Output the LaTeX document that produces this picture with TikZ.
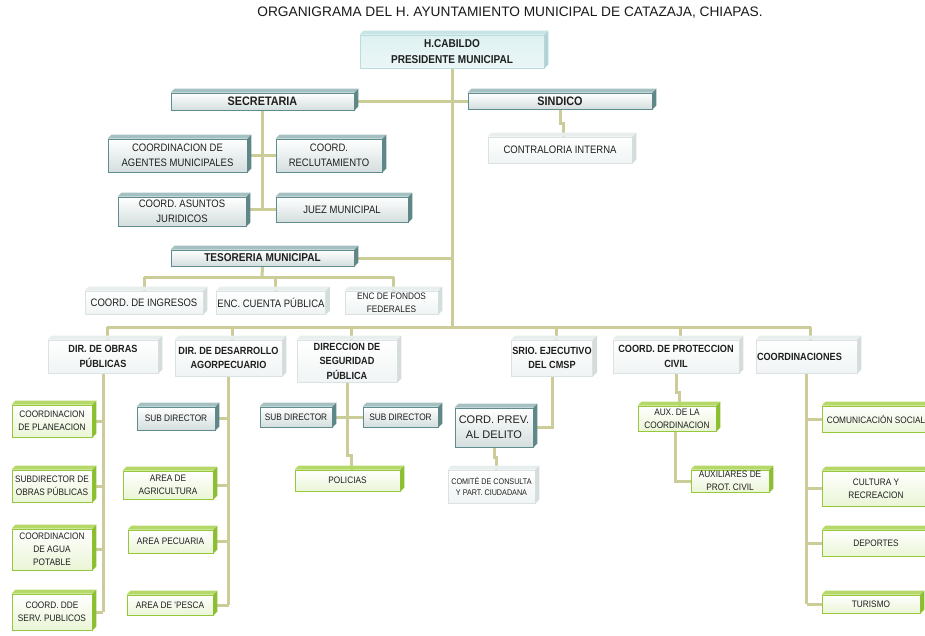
\documentclass[tikz,border=0pt]{standalone}
\usepackage{fontspec}
\setmainfont{Liberation Sans}
\newfontfamily\nar[FakeStretch=0.88]{Liberation Sans}
\usetikzlibrary{backgrounds}

\definecolor{lnkc}{RGB}{204,204,153}
\definecolor{tealdr}{RGB}{95,140,140}
\definecolor{tealfl}{RGB}{212,222,222}
\definecolor{tealtp}{RGB}{165,192,192}
\definecolor{tealsd}{RGB}{95,135,135}
\definecolor{cabdr}{RGB}{185,220,220}
\definecolor{cabfl}{RGB}{222,241,241}
\definecolor{cabtp}{RGB}{200,228,228}
\definecolor{cabsd}{RGB}{178,212,212}
\definecolor{paledr}{RGB}{218,226,226}
\definecolor{palefl}{RGB}{240,244,244}
\definecolor{paletp}{RGB}{232,238,238}
\definecolor{palesd}{RGB}{212,220,220}
\definecolor{grndr}{RGB}{150,200,60}
\definecolor{grnfl}{RGB}{234,245,214}
\definecolor{grntp}{RGB}{182,216,104}
\definecolor{grnsd}{RGB}{140,190,50}

\newcommand\ft{\fontsize{13.7}{15}\selectfont}
\newcommand\fa{\nar\fontsize{10.8}{14.5}\selectfont}
\newcommand\fb{\nar\fontsize{11.4}{16}\selectfont\bfseries}
\newcommand\fbb{\nar\fontsize{12.3}{16}\selectfont\bfseries}
\newcommand\fc{\nar\fontsize{10.4}{14.5}\selectfont\bfseries}
\newcommand\fg{\nar\fontsize{9.4}{12.8}\selectfont}
\newcommand\fs{\nar\fontsize{8.2}{11}\selectfont}

% box with a bevelled top and right side
\newcommand\bx[7][]{%
  \node[#2,minimum width=#5pt,minimum height=#6pt,#1] (#3) at (#4) {#7};
  \fill[#2 top] (#3.north west) -- ++(4,-4) -- ([shift={(4,-4)}]#3.north east) -- (#3.north east) -- cycle;
  \fill[#2 side] (#3.north east) -- ([shift={(4,-4)}]#3.north east) -- ([shift={(4,-4)}]#3.south east) -- (#3.south east) -- cycle;
}

\tikzset{
  lnk/.style={line width=3pt, draw=lnkc},
  bxbase/.style={inner sep=1pt, align=center, text=black!88, line width=0.8pt},
  tealbox/.style={bxbase, draw=tealdr, top color=white, bottom color=tealfl, font=\fa},
  tealbox top/.style={fill=tealtp},
  tealbox side/.style={fill=tealsd},
  cabbox/.style={bxbase, draw=cabdr, top color=cabfl, bottom color=cabfl!60!white, font=\fb},
  cabbox top/.style={fill=cabtp},
  cabbox side/.style={fill=cabsd},
  palebox/.style={bxbase, draw=paledr, top color=white, bottom color=palefl, font=\fa},
  palebox top/.style={fill=paletp},
  palebox side/.style={fill=palesd},
  grnbox/.style={bxbase, draw=grndr, top color=white, bottom color=grnfl, font=\fg},
  grnbox top/.style={fill=grntp},
  grnbox side/.style={fill=grnsd},
}

\begin{document}
\begin{tikzpicture}[x=1pt,y=-1pt]
\useasboundingbox (0,0) rectangle (925,635);
\clip (0,0) rectangle (925,635);

\node[font=\ft, text=black!90] (title) at (510,13) {ORGANIGRAMA DEL H. AYUNTAMIENTO MUNICIPAL DE CATAZAJA, CHIAPAS.};

%% top level
\bx{cabbox}{cab}{452,51.5}{184}{33}{H.CABILDO\\PRESIDENTE MUNICIPAL}
\bx[font=\fbb]{tealbox}{sec}{262.5,101.5}{183}{17}{SECRETARIA}
\bx[font=\fbb]{tealbox}{sin}{560,101}{184}{16}{SINDICO}
\bx{palebox}{contra}{560,150}{144}{26}{CONTRALORIA INTERNA}

%% secretaria
\bx{tealbox}{agentes}{177.5,155.5}{139}{33}{COORDINACION DE\\AGENTES MUNICIPALES}
\bx{tealbox}{reclut}{329,155.5}{106}{33}{COORD.\\RECLUTAMIENTO}
\bx{tealbox}{asuntos}{182,211.5}{128}{29}{COORD. ASUNTOS\\JURIDICOS}
\bx{tealbox}{juez}{342,209.5}{132}{25}{JUEZ MUNICIPAL}

%% tesoreria
\bx[font=\fb]{tealbox}{teso}{262.5,258}{183}{16}{TESORERIA MUNICIPAL}
\bx{palebox}{ingresos}{144,302.5}{118}{23}{COORD. DE INGRESOS}
\bx{palebox}{cuenta}{271,302.5}{108}{23}{ENC. CUENTA PÚBLICA}
\bx[font=\fg]{palebox}{fondos}{391.5,302.5}{93}{23}{ENC DE FONDOS\\FEDERALES}

%% direcciones
\bx[font=\fc]{palebox}{obras}{103,356.5}{110}{33}{DIR. DE OBRAS\\PÚBLICAS}
\bx[font=\fc]{palebox}{desarr}{228.5,358}{107}{36}{DIR. DE DESARROLLO\\AGORPECUARIO}
\bx[font=\fc]{palebox}{segur}{347,361}{100}{42}{DIRECCION DE\\SEGURIDAD\\PÚBLICA}
\bx[font=\fc]{palebox}{srio}{552,358}{80}{36}{SRIO. EJECUTIVO\\DEL CMSP}
\bx[font=\fc]{palebox}{protec}{676,356.5}{126}{33}{COORD. DE PROTECCION\\CIVIL}
\bx[font=\fc,align=left,text width=99pt]{palebox}{coords}{806.5,356.5}{101}{33}{COORDINACIONES}

%% obras publicas
\bx{grnbox}{plan}{52,421}{80}{32}{COORDINACION\\DE PLANEACION}
\bx{grnbox}{subobr}{52,486}{80}{32}{SUBDIRECTOR DE\\OBRAS PÚBLICAS}
\bx{grnbox}{agua}{52,549.5}{80}{41}{COORDINACION\\DE AGUA\\POTABLE}
\bx{grnbox}{serv}{52,612}{80}{36}{COORD. DDE\\SERV. PUBLICOS}

%% desarrollo agropecuario
\bx[font=\fg]{tealbox}{subdes}{176,418.5}{78}{23}{SUB DIRECTOR}
\bx{grnbox}{agric}{168,485}{90}{28}{AREA DE\\AGRICULTURA}
\bx{grnbox}{pecu}{170.5,541.5}{85}{23}{AREA PECUARIA}
\bx{grnbox}{pesca}{170,605}{86}{20}{AREA DE 'PESCA}

%% seguridad publica
\bx[font=\fg]{tealbox}{subsegl}{296,417}{72}{20}{SUB DIRECTOR}
\bx[font=\fg]{tealbox}{subsegr}{400.5,417}{75}{20}{SUB DIRECTOR}
\bx{grnbox}{policias}{347.5,480.5}{105}{21}{POLICIAS}

%% srio ejecutivo
\bx[font={\fontsize{11}{15}\selectfont}]{tealbox}{prev}{494,427.5}{78}{39}{CORD. PREV.\\AL DELITO}
\bx[font=\fs]{palebox}{comite}{491.5,486.5}{87}{33}{COMITÉ DE CONSULTA\\Y PART. CIUDADANA}

%% proteccion civil
\bx{grnbox}{aux}{677,418.5}{78}{25}{AUX. DE LA\\COORDINACION}
\bx{grnbox}{auxil}{730,481}{78}{22}{AUXILIARES DE\\PROT. CIVIL}

%% coordinaciones
\bx{grnbox}{comsoc}{876,419}{108}{26}{COMUNICACIÓN SOCIAL}
\bx{grnbox}{cultura}{876,488.5}{108}{35}{CULTURA Y\\RECREACION}
\bx{grnbox}{deportes}{876,543}{108}{26}{DEPORTES}
\bx{grnbox}{turismo}{871,604}{98}{18}{TURISMO}

\begin{pgfonlayer}{background}
  \coordinate (bus) at (452,327);
  \coordinate (tb) at (262,277);
  % trunk and main branches
  \draw[lnk] (cab.south) -- (cab.south |- bus);
  \draw[lnk] (sec.east) -- (sec.east -| cab.south);
  \draw[lnk] (sin.west) -- (sin.west -| cab.south);
  \draw[lnk] (teso.east) -- (teso.east -| cab.south);
  \draw[lnk] (sin.south) -- ++(0,14) -| ([xshift=3pt]contra.north);
  % secretaria
  \draw[lnk] (sec.south) -- (sec.south |- juez.west);
  \draw[lnk] (agentes.east) -- (reclut.west);
  \draw[lnk] (asuntos.east |- juez.west) -- (juez.west);
  % tesoreria
  \draw[lnk] (teso.south) -- (tb);
  \draw[lnk] (ingresos.north |- tb) -- ([xshift=2pt]fondos.north |- tb);
  \draw[lnk] (ingresos.north) -- (ingresos.north |- tb);
  \draw[lnk] ([xshift=4pt]cuenta.north) -- ([xshift=4pt]cuenta.north |- tb);
  \draw[lnk] ([xshift=2pt]fondos.north) -- ([xshift=2pt]fondos.north |- tb);
  % bus to the direcciones
  \draw[lnk] ([xshift=4pt]obras.north |- bus) -- ([xshift=4pt]coords.north |- bus);
  \foreach \n in {obras,desarr,segur,srio,protec,coords}
    \draw[lnk] ([xshift=4pt]\n.north) -- ([xshift=4pt]\n.north |- bus);
  % obras publicas
  \draw[lnk] (obras.south) -- (obras.south |- serv.east);
  \foreach \n in {plan,subobr,agua,serv}
    \draw[lnk] (\n.east) -- (\n.east -| obras.south);
  % desarrollo
  \draw[lnk] (desarr.south) -- (desarr.south |- pesca.east);
  \foreach \n in {subdes,agric,pecu,pesca}
    \draw[lnk] (\n.east) -- (\n.east -| desarr.south);
  % seguridad
  \draw[lnk] (segur.south) -- ++(0,73) -| ([xshift=4pt]policias.north);
  \draw[lnk] (subsegl.east) -- (subsegr.west);
  % srio ejecutivo
  \draw[lnk] (srio.south) -- (srio.south |- prev.east) -- (prev.east);
  \draw[lnk] (prev.south) -- ++(0,10) -| ([xshift=5pt]comite.north);
  % proteccion civil
  \draw[lnk] (protec.south) -- ++(0,19) -| ([xshift=2pt]aux.north);
  \draw[lnk] ([xshift=-2pt]aux.south) |- (auxil.west);
  % coordinaciones
  \draw[lnk] (coords.south) -- (coords.south |- turismo.west);
  \foreach \n in {comsoc,cultura,deportes,turismo}
    \draw[lnk] (\n.west) -- (\n.west -| coords.south);
\end{pgfonlayer}

\end{tikzpicture}
\end{document}
